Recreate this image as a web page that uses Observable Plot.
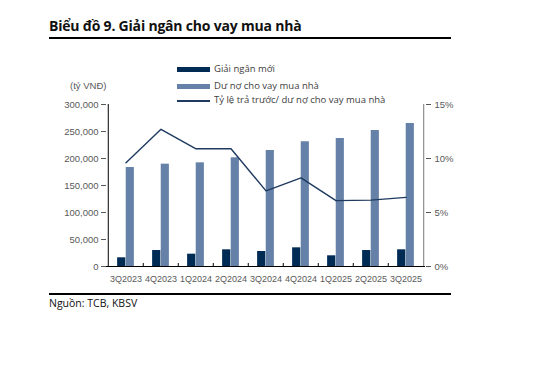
<!DOCTYPE html>
<html><head><meta charset="utf-8">
<script src="https://cdn.jsdelivr.net/npm/d3@7"></script>
<script src="https://cdn.jsdelivr.net/npm/@observablehq/plot@0.6"></script>
<style>
body{margin:0;background:#fff;}
#wrap{position:relative;width:539px;height:365px;font-family:"Open Sans",sans-serif;}
#title{position:absolute;left:49px;top:16px;font-size:14px;font-weight:700;color:#111;letter-spacing:-0.2px;}
#rule1{position:absolute;left:49px;top:37px;width:402px;height:1.5px;background:#000;}
#rule2{position:absolute;left:49px;top:293px;width:402px;height:1.5px;background:#000;}
#src{position:absolute;left:49px;top:296px;font-size:10.5px;color:#111;}
#chart{position:absolute;left:0;top:0;}
#legend{position:absolute;left:177px;top:62px;font-size:9.5px;color:#404040;}
.row{position:absolute;left:0;white-space:nowrap;height:14px;}
.sw{position:absolute;left:0;width:33px;}
.lab{position:absolute;left:37px;top:0;line-height:14px;}
#ylab{position:absolute;left:70px;top:80px;font-size:9.5px;color:#595959;font-family:"Liberation Sans",sans-serif;}
</style></head>
<body><div id="wrap">
<div id="title">Biểu đồ 9. Giải ngân cho vay mua nhà</div>
<div id="rule1"></div>
<div id="chart"></div>
<div id="ylab">(tỷ VNĐ)</div>
<div id="legend"></div>
<div id="rule2"></div>
<div id="src">Nguồn: TCB, KBSV</div>
</div>
<script>
const quarters = ["3Q2023","4Q2023","1Q2024","2Q2024","3Q2024","4Q2024","1Q2025","2Q2025","3Q2025"];
const newLoans = [16100, 29600, 22800, 30900, 27800, 34600, 19800, 29600, 30900];
const outstanding = [183300, 189500, 192000, 201300, 214800, 231000, 237000, 251800, 264800];
const prepayRate = [9.6, 12.7, 10.9, 10.9, 7.0, 8.2, 6.1, 6.15, 6.4];
const leftTicks = [0, 50000, 100000, 150000, 200000, 250000, 300000];
const rightTicks = [0, 5, 10, 15];
const seriesNames = ["Giải ngân mới", "Dư nợ cho vay mua nhà", "Tỷ lệ trả trước/ dư nợ cho vay mua nhà"];
const colors = ["#002B55", "#6581A7", "#1E3A5F"];

const pctToY = 300000 / 15;
const tbl = quarters.map((q, i) => ({q, n: newLoans[i], o: outstanding[i], r: prepayRate[i] * pctToY}));

const W = 539, mL = 106, mR = 114, mT = 104, mB = 34;
const step = (W - mL - mR) / quarters.length;
const bw = 8.6;
const tickCol = "#595959";

const plot = Plot.plot({
  width: W, height: mT + 162 + mB,
  marginLeft: mL, marginRight: mR, marginTop: mT, marginBottom: mB,
  style: {fontFamily: "Liberation Sans, Arial, sans-serif", fontSize: "9.5px", color: tickCol, background: "transparent"},
  x: {domain: quarters, padding: 0, axis: null},
  y: {domain: [0, 300000], axis: null},
  marks: [
    Plot.barY(tbl, {x: "q", y: "o", fill: colors[1], insetLeft: step/2, insetRight: step/2 - bw}),
    Plot.barY(tbl, {x: "q", y: "n", fill: colors[0], insetLeft: step/2 - bw, insetRight: step/2}),
    Plot.line(tbl, {x: "q", y: "r", stroke: colors[2], strokeWidth: 1.4}),
    Plot.axisY({ticks: leftTicks, anchor: "left", tickSize: 5, tickPadding: 3, tickFormat: d3.format(","), label: null, fill: tickCol}),
    Plot.ruleX([0], {x: () => quarters[0], dx: -step/2, y1: 0, y2: 300000, stroke: "#000"}),
    Plot.axisY({ticks: rightTicks.map(d => d * pctToY), anchor: "right", tickSize: 5, tickPadding: 4, tickFormat: d => (d / pctToY) + "%", label: null, fill: tickCol, stroke: "#555"}),
    Plot.ruleX([0], {x: () => quarters[quarters.length-1], dx: step/2, y1: 0, y2: 300000, stroke: "#777"}),
    Plot.axisX({tickSize: 0, tickPadding: 9, label: null, fill: tickCol, fontSize: 9}),
    Plot.ruleX(quarters.slice(1), {x: d => d, dx: -step/2, y1: 0, y2: 5500, stroke: "#000"}),
    Plot.ruleY([0], {stroke: "#000", strokeWidth: 1.2})
  ]
});
document.getElementById("chart").appendChild(plot);

const lg = document.getElementById("legend");
const tops = [0, 17, 31];
seriesNames.forEach((name, i) => {
  const row = document.createElement("div");
  row.className = "row"; row.style.top = tops[i] + "px";
  const sw = document.createElement("div");
  sw.className = "sw"; sw.style.background = colors[i];
  sw.style.height = i < 2 ? "5px" : "1.5px";
  sw.style.top = i < 2 ? "5px" : "7px";
  const lab = document.createElement("div");
  lab.className = "lab"; lab.textContent = name;
  row.appendChild(sw); row.appendChild(lab); lg.appendChild(row);
});
</script>
</body></html>
